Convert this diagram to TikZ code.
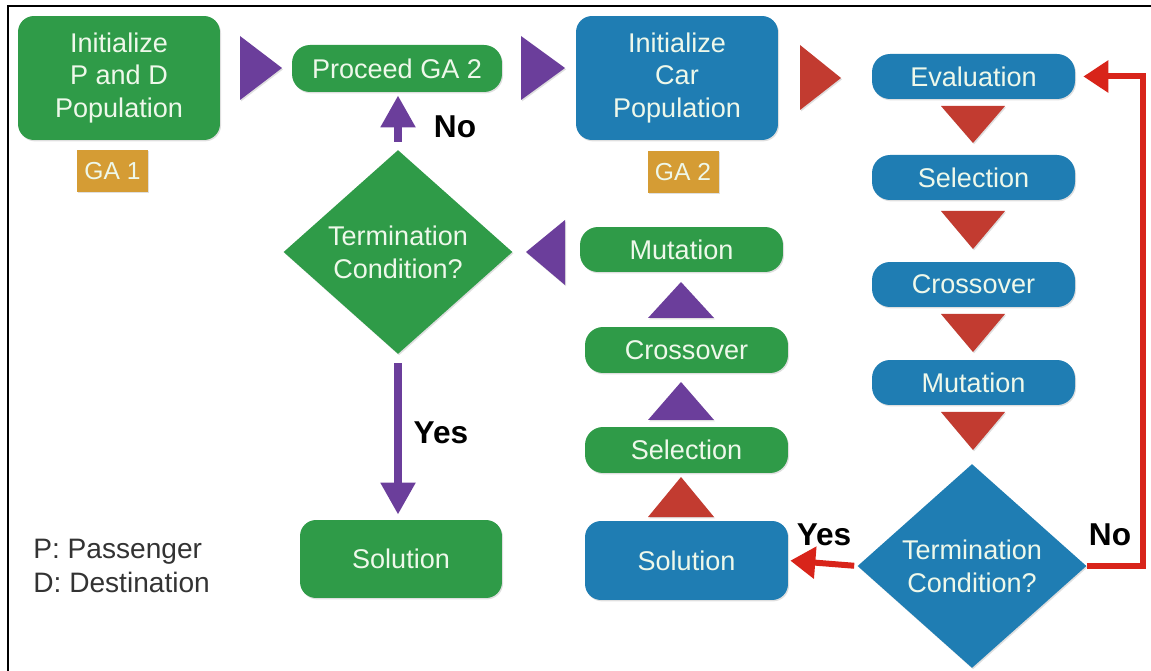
\documentclass[tikz,border=0pt]{standalone}
\usepackage{fontspec}
\setmainfont{Liberation Sans}
\usetikzlibrary{shapes.geometric,arrows.meta,shadows}
\definecolor{gagreen}{HTML}{2F9B48}
\definecolor{gablue}{HTML}{1F7DB3}
\definecolor{gaorange}{HTML}{D59C34}
\definecolor{gapurple}{HTML}{6B3E9B}
\definecolor{gared}{HTML}{C23B30}
\definecolor{arrred}{HTML}{D8241A}
\definecolor{boxtext}{HTML}{EEF8EA}
\definecolor{legtext}{HTML}{333333}
\tikzset{
  shad/.style={drop shadow={shadow xshift=0.6pt,shadow yshift=-0.8pt,opacity=0.25}},
  gbox/.style={shad,rounded corners=0.32cm,fill=gagreen,text=boxtext,align=center,inner sep=0pt,
    font=\fontsize{15.4}{18.7}\selectfont},
  bbox/.style={gbox,fill=gablue},
  galabel/.style={shad,fill=gaorange,text=boxtext,inner sep=0pt,minimum width=1.42cm,minimum height=0.84cm,
    font=\fontsize{14}{16}\selectfont},
  decision/.style={shad,diamond,inner sep=0pt,text=boxtext,align=center,minimum width=4.58cm,minimum height=4.08cm,
    font=\fontsize{15.4}{18.7}\selectfont},
  yn/.style={font=\bfseries\fontsize{18}{20}\selectfont,text=black},
  ptri/.style={shad,fill=gapurple},
  rtri/.style={shad,fill=gared},
  parrow/.style={draw=gapurple,line width=0.17cm,-{Triangle[width=0.66cm,length=0.64cm]}},
  rarrow/.style={draw=arrred,line width=0.12cm,-{Triangle[width=0.62cm,length=0.5cm]}},
}
\begin{document}
\begin{tikzpicture}[x=0.02cm,y=-0.02cm]
\useasboundingbox (0,0) rectangle (1151,671);
% frame
\draw[line width=0.04cm,black] (8,671) -- (8,6) -- (1151,6);

% GA1 side
\node[gbox,minimum width=4.04cm,minimum height=2.48cm] (init1) at (119,78) {Initialize\\P and D\\Population};
\node[galabel] (ga1) at (112.5,171) {GA 1};
\node[gbox,minimum width=4.2cm,minimum height=0.94cm,rounded corners=0.36cm] (proc) at (397,68.5) {Proceed GA 2};
\node[bbox,minimum width=4.04cm,minimum height=2.48cm] (init2) at (677,78) {Initialize\\Car\\Population};
\node[galabel] (ga2) at (683,172) {GA 2};

% GA2 column (right)
\node[bbox,minimum width=4.06cm,minimum height=0.9cm,rounded corners=0.36cm] (eval) at (973.5,76.5) {Evaluation};
\node[bbox,minimum width=4.06cm,minimum height=0.9cm,rounded corners=0.36cm] (sel2) at (973.5,177.5) {Selection};
\node[bbox,minimum width=4.06cm,minimum height=0.9cm,rounded corners=0.36cm] (cross2) at (973.5,284.5) {Crossover};
\node[bbox,minimum width=4.06cm,minimum height=0.9cm,rounded corners=0.36cm] (mut2) at (973.5,382.5) {Mutation};
\node[decision,fill=gablue] (term2) at (972,566) {Termination\\Condition?};
\node[bbox,minimum width=4.06cm,minimum height=1.58cm] (sol2) at (686.5,560.5) {Solution};

% GA1 middle column
\node[gbox,minimum width=4.06cm,minimum height=0.92cm,rounded corners=0.36cm] (sel1) at (686.5,450) {Selection};
\node[gbox,minimum width=4.06cm,minimum height=0.92cm,rounded corners=0.36cm] (cross1) at (686.5,350) {Crossover};
\node[gbox,minimum width=4.06cm,minimum height=0.9cm,rounded corners=0.36cm] (mut1) at (681.5,249.5) {Mutation};
\node[decision,fill=gagreen] (term1) at (398,252) {Termination\\Condition?};
\node[gbox,minimum width=4.04cm,minimum height=1.56cm] (sol1) at (401,559) {Solution};

% legend
\node[anchor=west,align=left,text=legtext,inner sep=0pt,font=\fontsize{16}{19.5}\selectfont] (legend) at (33,566) {P: Passenger\\D: Destination};

% triangles (purple)
\fill[ptri] (240,36) -- (282,68) -- (240,100) -- cycle;
\fill[ptri] (521,36) -- (565,68) -- (521,100) -- cycle;
\fill[ptri] (565,220) -- (526,252) -- (565,285) -- cycle;
\fill[ptri] (648,318) -- (681,282) -- (714,318) -- cycle;
\fill[ptri] (648,420) -- (681,382) -- (714,420) -- cycle;
% triangles (red)
\fill[rtri] (648,517) -- (681,477) -- (714,517) -- cycle;
\fill[rtri] (800,45) -- (841,78) -- (800,110) -- cycle;
\fill[rtri] (941,106) -- (1005,106) -- (973,143) -- cycle;
\fill[rtri] (941,211) -- (1005,211) -- (973,249) -- cycle;
\fill[rtri] (941,314) -- (1005,314) -- (973,352) -- cycle;
\fill[rtri] (941,412) -- (1005,412) -- (973,450) -- cycle;

% connectors
\draw[parrow,shorten <=0.16cm,shorten >=0.06cm] (term1.north) -- (term1.north |- proc.south);
\node[yn] (no1) at (455,127) {No};
\draw[parrow,shorten <=0.18cm,shorten >=0.1cm] (term1.south) -- (term1.south |- sol1.north);
\node[yn] (yes1) at (441,433) {Yes};

\coordinate (turn) at (1143,566);
\draw[rarrow,shorten >=0.16cm] (term2.east) -- (turn) |- (eval.east);
\draw[rarrow,shorten <=0.06cm,shorten >=0.04cm] (term2.west) -- (sol2.east);
\node[yn] (yes2) at (824,535) {Yes};
\node[yn] (no2) at (1110,535) {No};
\end{tikzpicture}
\end{document}
